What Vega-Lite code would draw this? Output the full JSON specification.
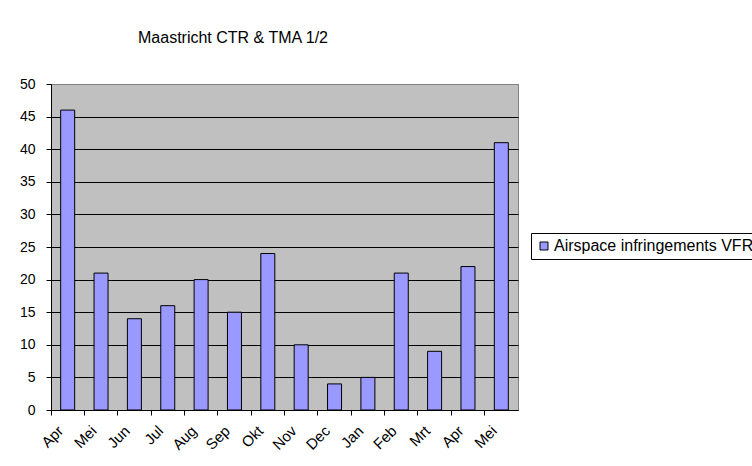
{
  "$schema": "https://vega.github.io/schema/vega-lite/v6.json",
  "autosize": {"type": "none"},
  "width": 467,
  "height": 326,
  "padding": {"left": 51, "top": 84, "right": 234, "bottom": 56},
  "background": "white",
  "title": {
    "text": "Maastricht CTR & TMA 1/2",
    "anchor": "start",
    "frame": "group",
    "dx": 87,
    "offset": 31,
    "font": "Liberation Sans",
    "fontSize": 16,
    "fontWeight": "normal",
    "color": "black"
  },
  "data": {
    "values": [
      {"m": "Apr-1", "series": "Airspace infringements VFR", "v": 46},
      {"m": "Mei-2", "series": "Airspace infringements VFR", "v": 21},
      {"m": "Jun-3", "series": "Airspace infringements VFR", "v": 14},
      {"m": "Jul-4", "series": "Airspace infringements VFR", "v": 16},
      {"m": "Aug-5", "series": "Airspace infringements VFR", "v": 20},
      {"m": "Sep-6", "series": "Airspace infringements VFR", "v": 15},
      {"m": "Okt-7", "series": "Airspace infringements VFR", "v": 24},
      {"m": "Nov-8", "series": "Airspace infringements VFR", "v": 10},
      {"m": "Dec-9", "series": "Airspace infringements VFR", "v": 4},
      {"m": "Jan-10", "series": "Airspace infringements VFR", "v": 5},
      {"m": "Feb-11", "series": "Airspace infringements VFR", "v": 21},
      {"m": "Mrt-12", "series": "Airspace infringements VFR", "v": 9},
      {"m": "Apr-13", "series": "Airspace infringements VFR", "v": 22},
      {"m": "Mei-14", "series": "Airspace infringements VFR", "v": 41}
    ]
  },
  "mark": {"type": "bar", "size": 14, "stroke": "black", "strokeWidth": 1},
  "encoding": {
    "x": {
      "field": "m",
      "type": "ordinal",
      "sort": null,
      "title": null,
      "scale": {"paddingInner": 0, "paddingOuter": 0},
      "axis": {
        "labelExpr": "split(datum.value, '-')[0]",
        "labelAngle": -45,
        "bandPosition": 0,
        "domainColor": "black",
        "tickColor": "black",
        "tickSize": 5,
        "labelPadding": 8,
        "labelOffset": -12,
        "labelFont": "Liberation Sans",
        "labelFontSize": 15,
        "labelColor": "black"
      }
    },
    "y": {
      "field": "v",
      "type": "quantitative",
      "title": null,
      "scale": {"domain": [0, 50], "nice": false},
      "axis": {
        "values": [0, 5, 10, 15, 20, 25, 30, 35, 40, 45, 50],
        "grid": true,
        "gridColor": {"condition": {"test": "datum.value == 50", "value": "#808080"}, "value": "black"},
        "gridOpacity": 1,
        "domainColor": "black",
        "tickColor": "black",
        "tickSize": 5,
        "labelPadding": 11,
        "labelFont": "Liberation Sans",
        "labelFontSize": 14,
        "labelColor": "black"
      }
    },
    "color": {
      "field": "series",
      "type": "nominal",
      "scale": {"range": ["#9999FF"]},
      "legend": {
        "title": null,
        "orient": "none",
        "legendX": 480,
        "legendY": 149,
        "strokeColor": "black",
        "fillColor": "white",
        "padding": 5,
        "symbolType": "square",
        "symbolSize": 64,
        "symbolStrokeColor": "black",
        "symbolStrokeWidth": 1,
        "symbolOffset": 0,
        "labelOffset": 2,
        "labelFont": "Liberation Sans",
        "labelFontSize": 16,
        "labelColor": "black",
        "labelLimit": 400
      }
    }
  },
  "config": {
    "view": {"fill": "#C0C0C0", "stroke": "#808080", "strokeWidth": 1}
  }
}
